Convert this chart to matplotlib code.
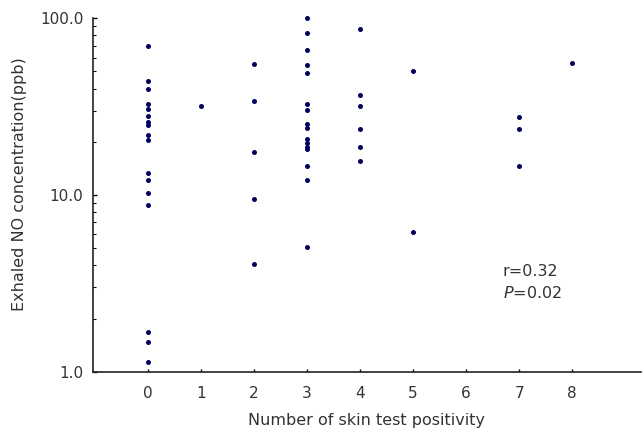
import matplotlib
matplotlib.use("Agg")
import matplotlib.pyplot as plt
from matplotlib.ticker import FixedLocator, LogLocator, NullFormatter, FormatStrFormatter

plt.rcParams['font.family'] = ['DejaVu Sans']

skin0 = [69.7, 44.4, 39.6, 32.7, 30.8, 27.9, 25.9, 24.8, 21.8, 20.5, 13.3, 12.1, 10.2, 8.8, 1.67, 1.47, 1.13]
skin1 = [31.8]
skin2 = [54.9, 34.0, 17.6, 9.45, 4.07]
skin3 = [100.0, 82.6, 65.9, 54.5, 48.8, 32.6, 30.1, 25.1, 23.8, 20.8, 19.6, 18.8, 18.2, 14.5, 12.1, 5.1]
skin4 = [87.3, 36.8, 31.8, 23.6, 18.7, 15.6]
skin5 = [50.1, 6.2]
skin7 = [27.6, 23.5, 14.5]
skin8 = [56.1]

groups = {0: skin0, 1: skin1, 2: skin2, 3: skin3, 4: skin4, 5: skin5, 7: skin7, 8: skin8}
x_ticks = [0, 1, 2, 3, 4, 5, 6, 7, 8]
y_ticks = [1.0, 10.0, 100.0]
stats_text = ["r=0.32", "=0.02"]

fig = plt.figure(figsize=(6.42, 4.32), dpi=100)
ax = fig.add_axes([93/642, 1 - 371.7/432, 1 - 93/642 - 0.002, (371.7 - 18.3)/432])

xs, ys = [], []
for k, vals in groups.items():
    xs += [k] * len(vals)
    ys += vals
ax.plot(xs, ys, 'o', color='#00005e', markersize=3.6, markeredgewidth=0, clip_on=False)

ax.set_yscale('log')
ax.set_ylim(1, 100)
ax.set_xlim(-1.03, 9.29)
ax.spines['top'].set_visible(False)
ax.spines['right'].set_visible(False)
for s in ['left', 'bottom']:
    ax.spines[s].set_linewidth(1.2)
    ax.spines[s].set_color('#222222')

ax.xaxis.set_major_locator(FixedLocator(x_ticks))
ax.yaxis.set_major_locator(FixedLocator(y_ticks))
ax.yaxis.set_major_formatter(FormatStrFormatter('%.1f'))
ax.yaxis.set_minor_locator(LogLocator(base=10, subs=range(2, 10)))
ax.yaxis.set_minor_formatter(NullFormatter())

ax.tick_params(axis='x', direction='in', length=2.5, width=1, pad=10, labelsize=11, labelcolor='#333333')
ax.tick_params(axis='y', which='major', direction='in', length=3, width=1, pad=7, labelsize=11, labelcolor='#333333')
ax.tick_params(axis='y', which='minor', direction='in', length=2.5, width=0.8)

ax.set_xlabel('Number of skin test positivity', fontsize=11.5, color='#333333', labelpad=9)
ax.set_ylabel('Exhaled NO concentration(ppb)', fontsize=11.5, color='#333333')
ax.yaxis.set_label_coords(-0.12, 0.531)

ax.text(503/642, 1 - 272/432, stats_text[0], transform=fig.transFigure, fontsize=11.5,
        color='#333333', ha='left', va='center')
ax.text(503/642, 1 - 293/432, r'$P$' + stats_text[1], transform=fig.transFigure, fontsize=11.5,
        color='#333333', ha='left', va='center')

fig.savefig('out.png', dpi=100)
